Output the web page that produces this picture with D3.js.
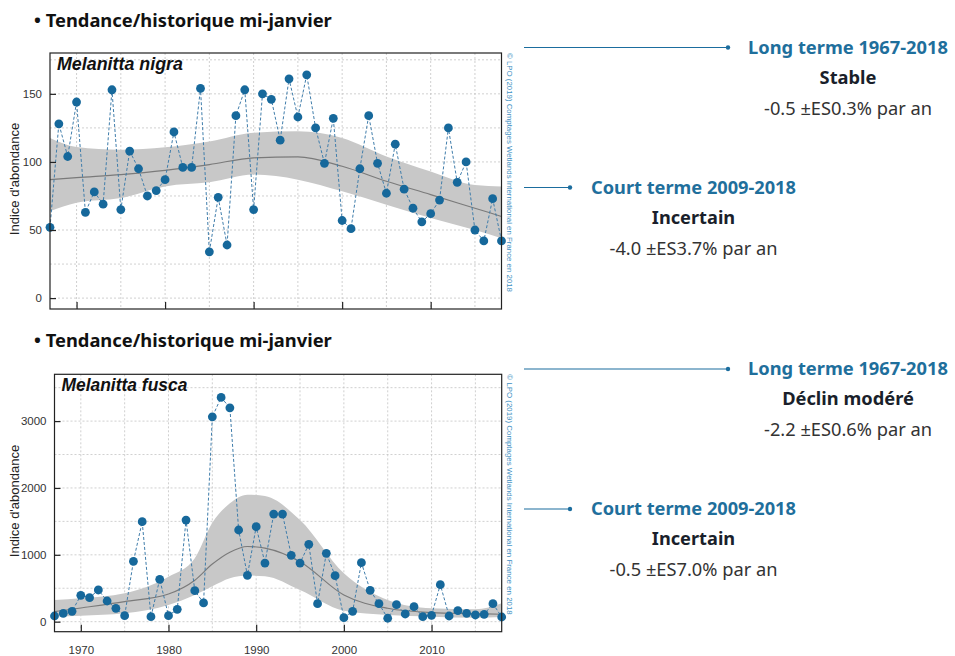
<!DOCTYPE html>
<html><head><meta charset="utf-8">
<script src="https://cdn.jsdelivr.net/npm/d3@7/dist/d3.min.js"></script>
<style>body{margin:0;background:#fff}svg{display:block}</style>
</head><body>
<svg id="c" width="955" height="656"></svg>
<script>
// ---------- DATA ----------
const years = d3.range(1967, 2019);
const nigraValues = [52,128,104,144,63,78,69,153,65,108,95,75,79,87,122,96,96,154,34,74,39,134,153,65,
  150,146,116,161,133,164,125,99,132,57,51,95,134,99,77,113,80,66,56,62,72,125,85,100,50,42,73,42];
const nigraTrendYears = [1967,1970,1975,1980,1985,1990,1995,2000,2005,2010,2015,2018];
const nigraFit   = [87,88.5,90.7,93.8,98,103,103.7,96.8,85.8,76,66,60];
const nigraUpper = [117.6,111,109,110.7,115,121.5,122.5,117.6,104,93,83,82];
const nigraLower = [63.7,70,73.5,82,85,90.7,87,78.4,68.6,58.8,50,44];

const fuscaValues = [85,125,155,394,359,474,309,200,90,903,1495,75,634,90,185,1520,463,280,3064,3354,3199,1371,693,1420,
  877,1610,1610,992,877,1157,269,1022,688,60,155,882,469,269,51,254,115,224,75,95,553,85,164,125,100,110,269,70];
const fuscaTrendYears = [1967,1970,1975,1980,1983,1985,1987,1989,1991,1995,2000,2005,2010,2015,2018];
const fuscaFit   = [150,205,300,414,620,862,1040,1125,1100,897,399,200,135,120,110];
const fuscaUpper = [324,350,425,673,950,1480,1770,1900,1880,1520,723,324,200,185,275];
const fuscaLower = [75,90,125,250,400,530,650,690,680,474,164,100,75,60,70];

const xTicks = [1970,1980,1990,2000,2010];
const nigraYTicks = [0,50,100,150];
const fuscaYTicks = [0,1000,2000,3000];

const sectionTitle = "• Tendance/historique mi-janvier";
const copyright = "© LPO (2019) Comptages Wetlands International en France en 2018";
const nigraNotes = {long:["Long terme 1967-2018","Stable","-0.5 ±ES0.3% par an"], court:["Court terme 2009-2018","Incertain","-4.0 ±ES3.7% par an"]};
const fuscaNotes = {long:["Long terme 1967-2018","Déclin modéré","-2.2 ±ES0.6% par an"], court:["Court terme 2009-2018","Incertain","-0.5 ±ES7.0% par an"]};

// ---------- DRAW ----------
const svg = d3.select("#c");
const BLUE = "#1b6d9e", DOT = "#16689b", TXTBLUE = "#1f6f9c";
const chartFont = "'Liberation Sans', Arial, sans-serif";
const noteFont = "'Noto Sans', 'Open Sans', sans-serif";

function fit(sel, target){
  const n = sel.node(); const fs = parseFloat(sel.attr("font-size"));
  const w = n.getComputedTextLength(); if (w>0) sel.attr("font-size", fs*target/w);
}

function chart(o){
  const x = d3.scaleLinear().domain([1967,2018]).range([o.left,o.right]);
  const y = d3.scaleLinear().domain(o.yDomain).range([o.bottom,o.top]);
  const g = svg.append("g");
  // grid
  g.selectAll(".gx").data(d3.range(1970,2018,5)).join("line")
    .attr("x1",d=>x(d)).attr("x2",d=>x(d)).attr("y1",o.top).attr("y2",o.bottom)
    .attr("stroke","#c4c4c4").attr("stroke-width",0.8).attr("stroke-dasharray","2,2");
  g.selectAll(".gy").data(o.grid).join("line")
    .attr("y1",d=>y(d)).attr("y2",d=>y(d)).attr("x1",o.left).attr("x2",o.right)
    .attr("stroke","#c4c4c4").attr("stroke-width",0.8).attr("stroke-dasharray","2,2");
  // band
  const tr = o.tYears.map((t,i)=>({t, f:o.fit[i], u:o.upper[i], l:o.lower[i]}));
  g.append("path").datum(tr).attr("fill","#c8c8c8")
    .attr("d", d3.area().x(d=>x(d.t)).y0(d=>y(d.l)).y1(d=>y(d.u)).curve(d3.curveMonotoneX));
  g.append("path").datum(tr).attr("fill","none").attr("stroke","#7a7a7a").attr("stroke-width",1.1)
    .attr("d", d3.line().x(d=>x(d.t)).y(d=>y(d.f)).curve(d3.curveMonotoneX));
  // data
  const pts = years.map((yr,i)=>({yr, v:o.values[i]}));
  g.append("path").datum(pts).attr("fill","none").attr("stroke","#3f7dab").attr("stroke-width",1)
    .attr("stroke-dasharray","3,2").attr("d", d3.line().x(d=>x(d.yr)).y(d=>y(d.v)));
  g.selectAll(".pt").data(pts).join("circle").attr("cx",d=>x(d.yr)).attr("cy",d=>y(d.v)).attr("r",4.4)
    .attr("fill",DOT);
  // frame
  g.append("rect").attr("x",o.left).attr("y",o.top).attr("width",o.right-o.left).attr("height",o.bottom-o.top)
    .attr("fill","none").attr("stroke","#222").attr("stroke-width",1.2);
  // axes
  const ax = d3.axisBottom(x).tickValues(xTicks).tickSizeInner(-7).tickSizeOuter(0).tickPadding(14)
    .tickFormat(o.xLabels ? d3.format("d") : "");
  const gx = g.append("g").attr("transform",`translate(0,${o.bottom})`).call(ax);
  gx.select(".domain").remove();
  gx.selectAll("line").attr("stroke","#222").attr("stroke-width",1.2);
  gx.selectAll("text").attr("font-family",chartFont).attr("font-size",11.5).attr("fill","#333");
  const ay = d3.axisLeft(y).tickValues(o.yTicks).tickSizeInner(-6).tickSizeOuter(0).tickPadding(8)
    .tickFormat(d3.format("d"));
  const gy = g.append("g").attr("transform",`translate(${o.left},0)`).call(ay);
  gy.select(".domain").remove();
  gy.selectAll("line").attr("stroke","#222").attr("stroke-width",1.2);
  gy.selectAll("text").attr("font-family",chartFont).attr("font-size",11.5).attr("fill","#333");
  // labels
  g.append("text").attr("transform",`translate(19,${(o.top+o.bottom)/2-2}) rotate(-90)`)
    .attr("text-anchor","middle").attr("font-family",chartFont).attr("font-size",13).attr("fill","#222")
    .text("Indice d'abondance");
  const sp = g.append("text").attr("x",o.spX).attr("y",o.top+17).attr("font-family",chartFont)
    .attr("font-size",15).attr("font-weight","bold").attr("font-style","italic").attr("fill","#111").text(o.species);
  fit(sp, 126);
  g.append("text").attr("transform",`translate(${o.right+5},${o.top}) rotate(90)`)
    .attr("font-family",chartFont).attr("font-size",7.5).attr("fill","#3d8fc2")
    .attr("textLength", o.bottom-o.top-17).attr("lengthAdjust","spacingAndGlyphs").text(copyright);
  // title
  const t = svg.append("text").attr("x",34).attr("y",o.titleY).attr("font-family",noteFont)
    .attr("font-size",18).attr("font-weight","bold").attr("fill","#111").text(sectionTitle);
  fit(t, 298);
  // notes
  notes(o.notes, o.noteY0, o.noteY1);
}

function notes(n, yL, yC){
  const line = (x1,x2,yy)=>{
    svg.append("line").attr("x1",x1).attr("x2",x2).attr("y1",yy).attr("y2",yy).attr("stroke",BLUE).attr("stroke-width",1.2);
    svg.append("circle").attr("cx",x2).attr("cy",yy).attr("r",2.2).attr("fill",BLUE);
  };
  const block = (arr, cx, yy, w0, w2)=>{
    const a = svg.append("text").attr("x",cx).attr("y",yy+6).attr("text-anchor","middle").attr("font-family",noteFont)
      .attr("font-size",17).attr("font-weight","bold").attr("fill",TXTBLUE).text(arr[0]); fit(a,w0);
    const b = svg.append("text").attr("x",cx).attr("y",yy+36).attr("text-anchor","middle").attr("font-family",noteFont)
      .attr("font-size",17).attr("font-weight","bold").attr("fill","#1a1f2b").text(arr[1]);
    const c = svg.append("text").attr("x",cx).attr("y",yy+67).attr("text-anchor","middle").attr("font-family",noteFont)
      .attr("font-size",16).attr("fill","#333").text(arr[2]); fit(c,w2);
    b.attr("font-size", a.attr("font-size"));
  };
  line(524, 728, yL); block(n.long, 848, yL, 200, 168);
  line(524, 570, yC); block(n.court, 693.5, yC, 205, 168);
}

chart({left:50, right:501.5, top:53, bottom:309, yDomain:[-8,180], grid:d3.range(0,180,25),
  yTicks:nigraYTicks, values:nigraValues, tYears:nigraTrendYears, fit:nigraFit, upper:nigraUpper, lower:nigraLower,
  xLabels:false, species:"Melanitta nigra", spX:57, titleY:27, notes:nigraNotes, noteY0:47.5, noteY1:187.5});
chart({left:54.5, right:501.7, top:374.3, bottom:631.7, yDomain:[-150,3700], grid:d3.range(0,3700,500),
  yTicks:fuscaYTicks, values:fuscaValues, tYears:fuscaTrendYears, fit:fuscaFit, upper:fuscaUpper, lower:fuscaLower,
  xLabels:true, species:"Melanitta fusca", spX:61.5, titleY:347, notes:fuscaNotes, noteY0:369, noteY1:509});
</script>
</body></html>
